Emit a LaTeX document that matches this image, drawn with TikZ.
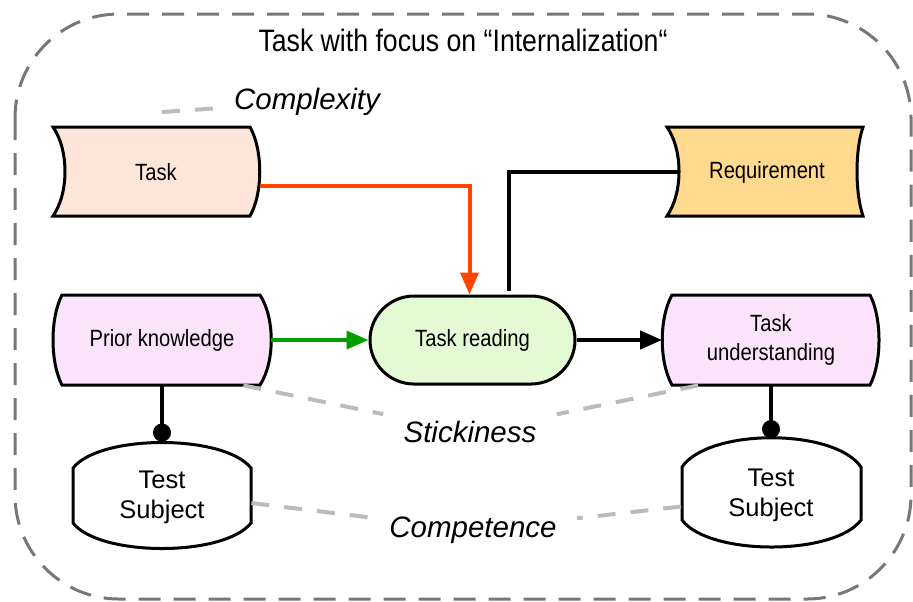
\documentclass[tikz,border=0pt]{standalone}
\usepackage{fontspec}
\setmainfont{Liberation Sans}
\newfontfamily\narrowfont[FakeStretch=0.86]{Liberation Sans}
\usepackage{tikz}
\usetikzlibrary{arrows.meta,shapes.misc}
\definecolor{taskfill}{HTML}{FDE5D9}
\definecolor{reqfill}{HTML}{FFDA8E}
\definecolor{priorfill}{HTML}{FCE3FC}
\definecolor{readfill}{HTML}{E3FAD4}
\definecolor{redorange}{HTML}{FF4500}
\definecolor{arrowgreen}{HTML}{00A000}
\definecolor{framegray}{HTML}{777777}
\definecolor{hintgray}{HTML}{BBBBBB}

\begin{document}
\begin{tikzpicture}[x=0.5pt,y=-0.5pt,
	box/.style={line width=1.5pt},
	boxlabel/.style={font=\narrowfont\fontsize{11.75}{14.75}\selectfont, align=center, inner sep=0pt},
	subjlabel/.style={font=\fontsize{12.75}{15}\selectfont, align=center, inner sep=0pt},
	sidelabel/.style={font=\itshape\fontsize{14.75}{17}\selectfont, inner sep=10pt},
	flowline/.style={line width=2pt},
	flowarrow/.style={-{Triangle[length=11pt,width=9pt]}},
	dotend/.style={-{Circle[length=9pt]}},
	hintline/.style={draw=hintgray, line width=2pt, dash pattern=on 9pt off 7.5pt},
	frameline/.style={draw=framegray, line width=1.5pt, dash pattern=on 11pt off 6.5pt, rounded corners=52pt}]
	\useasboundingbox (0,0) rectangle (913,601);
	\draw[frameline] (15,14) rectangle (911,599);
	\node[font=\narrowfont\fontsize{15.5}{18}\selectfont] (title) at (463,40) {Task with focus on “Internalization“};

	\draw[box, fill=taskfill] (53,127) -- (250,127) .. controls (263,150) and (263,193) .. (250,216)
		-- (53,216) .. controls (69,193) and (69,150) .. (53,127) -- cycle;
	\draw[box, fill=reqfill] (667,127) -- (863,127) .. controls (855,150) and (855,193) .. (863,216)
		-- (667,216) .. controls (683,193) and (683,150) .. (667,127) -- cycle;
	\draw[box, fill=priorfill] (62,295) -- (260,295) .. controls (275,318) and (275,362) .. (260,385)
		-- (62,385) .. controls (50,362) and (50,318) .. (62,295) -- cycle;
	\draw[box, fill=priorfill] (672,295) -- (870,295) .. controls (882,318) and (882,362) .. (870,385)
		-- (672,385) .. controls (659,362) and (659,318) .. (672,295) -- cycle;
	\draw[box, fill=white] (73,468) .. controls (100,434) and (224,434) .. (251,468)
		-- (251,523) .. controls (224,557) and (100,557) .. (73,523) -- cycle;
	\draw[box, fill=white] (682,467) .. controls (709,428) and (834,428) .. (861,467)
		-- (861,520) .. controls (834,556) and (709,556) .. (682,520) -- cycle;

	\node[boxlabel, minimum width=103.5pt, minimum height=44.5pt] (task) at (156,172.5) {Task};
	\node[boxlabel, minimum width=89pt, minimum height=44.5pt] (req) at (767,172) {Requirement};
	\node[boxlabel, minimum width=109pt, minimum height=45pt] (prior) at (162,340) {Prior knowledge};
	\node[boxlabel, draw, box, fill=readfill, rounded rectangle, minimum width=102.5pt, minimum height=44pt] (read) at (472.5,340) {Task reading};
	\node[boxlabel, minimum width=108.5pt, minimum height=45pt] (under) at (771,340) {Task\\understanding};
	\node[subjlabel, minimum width=89pt, minimum height=55pt] (testL) at (162,497) {Test\\Subject};
	\node[subjlabel, minimum width=89.5pt, minimum height=57pt] (testR) at (771,495.5) {Test\\Subject};

	\node[sidelabel] (complex) at (307,102) {Complexity};
	\node[sidelabel] (stick) at (470,432) {Stickiness};
	\node[sidelabel] (compet) at (473,530) {Competence};
	\coordinate (cplx) at (162,112);

	\draw[hintline] (cplx) -- (complex);
	\draw[hintline] ([xshift=-14pt]prior.south east) -- (stick);
	\draw[hintline] ([xshift=18pt]under.south west) -- (stick);
	\draw[hintline] ([yshift=-3pt]testL.east) -- (compet);
	\draw[hintline] ([yshift=-5.5pt]testR.west) -- (compet);

	\draw[flowline, flowarrow, redorange] ([yshift=-6.5pt]task.east) -| ([xshift=-1.5pt]read.north);
	\draw[flowline] (req.west) -| ([shift={(18pt,2pt)}]read.north);
	\draw[flowline, flowarrow, arrowgreen] (prior.east) -- (read.west);
	\draw[flowline, flowarrow] (read.east) -- (under.west);
	\draw[flowline, dotend] (prior.south) -- (testL.north);
	\draw[flowline, dotend] (under.south) -- (testR.north);
\end{tikzpicture}
\end{document}
